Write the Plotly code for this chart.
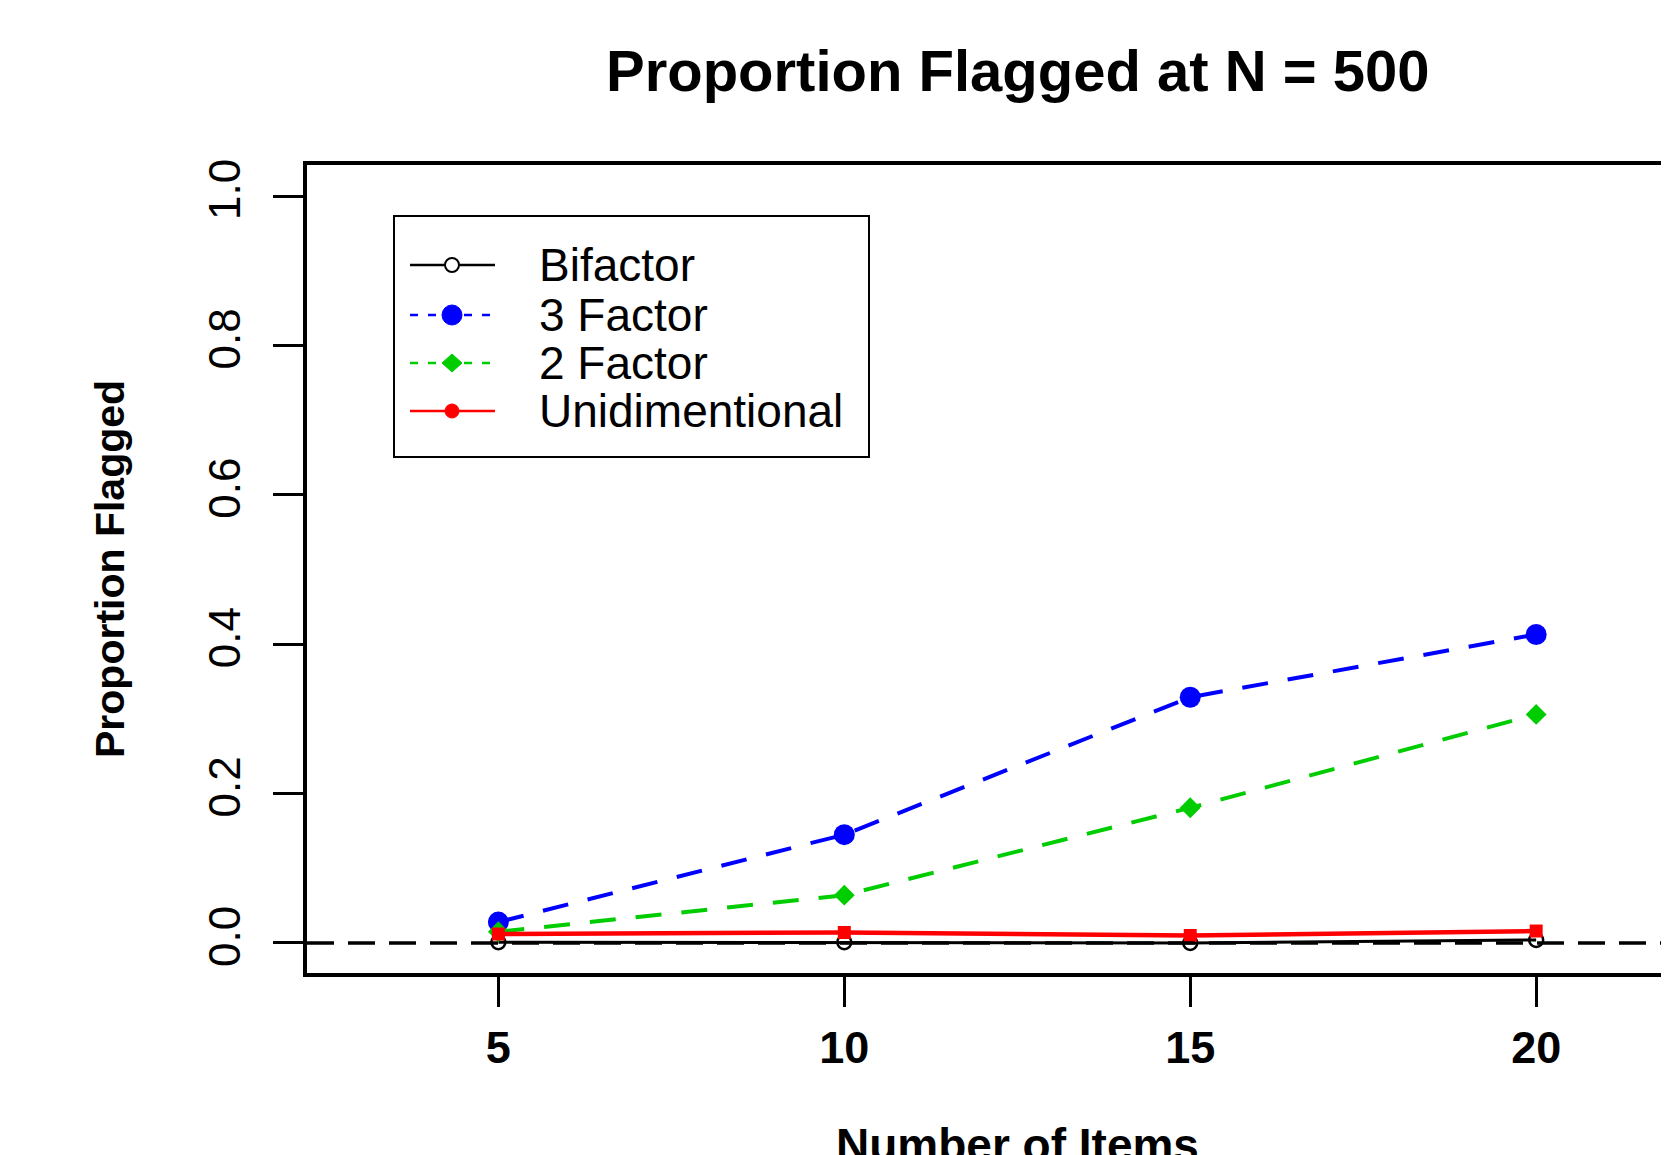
import plotly.graph_objects as go

# ---- data ----
n_items = [5, 10, 15, 20]
bifactor = [0.001, 0.001, 0.0, 0.004]
three_factor = [0.028, 0.145, 0.329, 0.413]
two_factor = [0.015, 0.064, 0.181, 0.306]
unidimentional = [0.012, 0.014, 0.010, 0.016]
series_names = ["Bifactor", "3 Factor", "2 Factor", "Unidimentional"]
x_ticks = [5, 10, 15, 20]
y_ticks = [0.0, 0.2, 0.4, 0.6, 0.8, 1.0]
y_tick_labels = ["0.0", "0.2", "0.4", "0.6", "0.8", "1.0"]

FONT = "Liberation Sans, Arial, sans-serif"
BLUE = "#0000FF"
GREEN = "#00CD00"
RED = "#FF0000"
DASH = "26px,20px"

OFF = 8  # default page body margin
W, H = 1669 - OFF, 1155 - OFF
L, T = 307 - OFF, 165 - OFF
BOT = 973 - OFF
B = H - BOT
PW = W - L
PH = BOT - T


def px_x(p):
    return (p - OFF - L) / PW


def px_y(p):
    return (BOT - (p - OFF)) / PH


fig = go.Figure()

fig.add_trace(go.Scatter(x=n_items, y=bifactor, mode="lines+markers", name=series_names[0],
                         line=dict(color="black", width=3),
                         marker=dict(symbol="circle-open", size=14, color="black", line=dict(width=2.5))))
fig.add_trace(go.Scatter(x=n_items, y=three_factor, mode="lines+markers", name=series_names[1],
                         line=dict(color=BLUE, width=4, dash=DASH),
                         marker=dict(symbol="circle", size=21, color=BLUE)))
fig.add_trace(go.Scatter(x=n_items, y=two_factor, mode="lines+markers", name=series_names[2],
                         line=dict(color=GREEN, width=4, dash=DASH),
                         marker=dict(symbol="diamond", size=16, color=GREEN)))
fig.add_trace(go.Scatter(x=n_items, y=unidimentional, mode="lines+markers", name=series_names[3],
                         line=dict(color=RED, width=4.5),
                         marker=dict(symbol="square", size=13, color=RED)))

shapes = []
# dashed reference line at 0
shapes.append(dict(type="line", xref="paper", yref="y", x0=0, x1=1, y0=0, y1=0,
                   line=dict(color="black", width=3.5, dash="27px,14px"), layer="above"))

# ---- custom legend (R style) ----
box_x0, box_x1 = px_x(394), px_x(869)
box_y0, box_y1 = px_y(457), px_y(216)
shapes.append(dict(type="rect", xref="paper", yref="paper", x0=box_x0, x1=box_x1, y0=box_y0, y1=box_y1,
                   line=dict(color="black", width=2), fillcolor="white", layer="below"))
row_py = [265, 315, 363, 411]
leg_colors = ["black", BLUE, GREEN, RED]
leg_dash = ["solid", "8px,10px", "8px,10px", "solid"]
ls_x0, ls_x1, lm_x = px_x(410), px_x(495), px_x(452)
annotations = []
for i, name in enumerate(series_names):
    yy = px_y(row_py[i])
    shapes.append(dict(type="line", xref="paper", yref="paper", x0=ls_x0, x1=ls_x1, y0=yy, y1=yy,
                       line=dict(color=leg_colors[i], width=2.5, dash=leg_dash[i])))
    if i == 0:
        shapes.append(dict(type="circle", xref="paper", yref="paper", xsizemode="pixel", ysizemode="pixel",
                           xanchor=lm_x, yanchor=yy, x0=-7, x1=7, y0=-7, y1=7,
                           line=dict(color="black", width=2), fillcolor="white"))
    elif i == 1:
        shapes.append(dict(type="circle", xref="paper", yref="paper", xsizemode="pixel", ysizemode="pixel",
                           xanchor=lm_x, yanchor=yy, x0=-10, x1=10, y0=-10, y1=10,
                           line=dict(color=BLUE, width=1), fillcolor=BLUE))
    elif i == 2:
        shapes.append(dict(type="path", xref="paper", yref="paper", xsizemode="pixel", ysizemode="pixel",
                           xanchor=lm_x, yanchor=yy, path="M -10 0 L 0 9 L 10 0 L 0 -9 Z",
                           line=dict(color=GREEN, width=1), fillcolor=GREEN))
    else:
        shapes.append(dict(type="circle", xref="paper", yref="paper", xsizemode="pixel", ysizemode="pixel",
                           xanchor=lm_x, yanchor=yy, x0=-7, x1=7, y0=-7, y1=7,
                           line=dict(color=RED, width=1), fillcolor=RED))
    annotations.append(dict(text=name, xref="paper", yref="paper", x=px_x(537), y=yy,
                            xanchor="left", yanchor="middle", showarrow=False,
                            font=dict(family=FONT, size=46, color="black")))

# title and axis titles
annotations.append(dict(text="<b>Proportion Flagged at N = 500</b>", xref="paper", yref="paper",
                        x=px_x(1017), y=px_y(71), xanchor="center", yanchor="middle", showarrow=False,
                        font=dict(family=FONT, size=58, color="black")))
annotations.append(dict(text="<b>Number of Items</b>", xref="paper", yref="paper",
                        x=px_x(1017), y=px_y(1117), xanchor="center", yanchor="top", showarrow=False,
                        font=dict(family=FONT, size=46, color="black")))
annotations.append(dict(text="<b>Proportion Flagged</b>", xref="paper", yref="paper",
                        x=px_x(110), y=px_y(569), xanchor="center", yanchor="middle", showarrow=False,
                        textangle=-90, font=dict(family=FONT, size=41, color="black")))

fig.update_layout(
    width=W, height=H,
    margin=dict(l=L, r=0, t=T, b=B, pad=0),
    paper_bgcolor="white", plot_bgcolor="white",
    showlegend=False,
    shapes=shapes,
    annotations=annotations,
    font=dict(family=FONT, color="black"),
)
fig.update_xaxes(range=[2.234, 21.92], tickvals=x_ticks, ticktext=[f"<b>{v}</b>" for v in x_ticks],
                 ticks="outside", ticklen=30, tickwidth=3, tickcolor="black",
                 showline=True, linewidth=4, linecolor="black", mirror=True,
                 showgrid=False, zeroline=False,
                 tickfont=dict(family=FONT, size=45, color="black"), ticklabelstandoff=2)
fig.update_yaxes(range=[-0.0402, 1.0415], tickvals=y_ticks, ticktext=y_tick_labels,
                 ticks="outside", ticklen=30, tickwidth=3, tickcolor="black",
                 showline=True, linewidth=4, linecolor="black", mirror=False,
                 showgrid=False, zeroline=False, tickangle=-90,
                 tickfont=dict(family=FONT, size=44, color="black"), ticklabelstandoff=15)

fig.write_html("out.html")
